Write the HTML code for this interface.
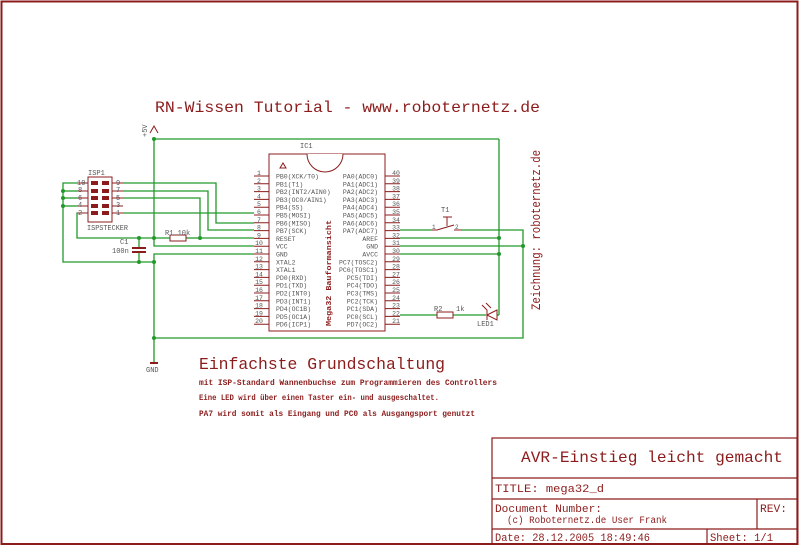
<!DOCTYPE html>
<html><head><meta charset="utf-8"><style>
body{margin:0;background:#fff}
svg{display:block}
text{font-family:"Liberation Mono","DejaVu Sans Mono",monospace}
</style></head><body>
<svg width="800" height="547" viewBox="0 0 800 547" xmlns="http://www.w3.org/2000/svg">
<rect x="1.5" y="1.5" width="796" height="542.5" fill="none" stroke="#8c1c1c" stroke-width="2"/>
<!-- title block -->
<g fill="none" stroke="#8c1c1c" stroke-width="1.2">
<rect x="492" y="438" width="305" height="106"/>
<line x1="492" y1="478" x2="797" y2="478"/>
<line x1="492" y1="499" x2="797" y2="499"/>
<line x1="492" y1="529" x2="797" y2="529"/>
<line x1="757" y1="499" x2="757" y2="529"/>
<line x1="707" y1="529" x2="707" y2="544"/>
</g>
<g fill="#8c1c1c">
<text x="521" y="462" font-size="16" textLength="262" lengthAdjust="spacingAndGlyphs">AVR-Einstieg leicht gemacht</text>
<text x="495" y="492" font-size="11" textLength="109" lengthAdjust="spacingAndGlyphs">TITLE:  mega32_d</text>
<text x="495" y="512" font-size="11" textLength="107" lengthAdjust="spacingAndGlyphs">Document Number:</text>
<text x="507" y="523" font-size="10" textLength="160" lengthAdjust="spacingAndGlyphs">(c) Roboternetz.de User Frank</text>
<text x="760" y="512" font-size="11" textLength="27" lengthAdjust="spacingAndGlyphs">REV:</text>
<text x="495" y="541" font-size="11" textLength="155" lengthAdjust="spacingAndGlyphs">Date: 28.12.2005 18:49:46</text>
<text x="710" y="541" font-size="11" textLength="63" lengthAdjust="spacingAndGlyphs">Sheet: 1/1</text>
<text x="155" y="112" font-size="16" textLength="385" lengthAdjust="spacingAndGlyphs">RN-Wissen Tutorial  - www.roboternetz.de</text>
<text x="199" y="369" font-size="17" textLength="246" lengthAdjust="spacingAndGlyphs">Einfachste Grundschaltung</text>
<text x="199" y="385" font-size="8" font-weight="bold" textLength="298" lengthAdjust="spacingAndGlyphs">mit ISP-Standard  Wannenbuchse zum Programmieren des Controllers</text>
<text x="199" y="400" font-size="8" font-weight="bold" textLength="240" lengthAdjust="spacingAndGlyphs">Eine LED wird über einen Taster ein- und ausgeschaltet.</text>
<text x="199" y="416" font-size="8" font-weight="bold" textLength="276" lengthAdjust="spacingAndGlyphs">PA7 wird somit als Eingang und PC0 als Ausgangsport genutzt</text>
<text transform="translate(540,310) rotate(-90)" font-size="13" textLength="160" lengthAdjust="spacingAndGlyphs">Zeichnung: roboternetz.de</text>
<text transform="translate(331,326) rotate(-90)" font-size="7" font-weight="bold" textLength="106" lengthAdjust="spacingAndGlyphs">Mega32 Bauformansicht</text>
</g>
<!-- green wires -->
<g fill="none" stroke="#22992a" stroke-width="1.3">
<polyline points="154,138 154,246 254,246"/>
<line x1="154" y1="139" x2="499" y2="139"/>
<line x1="499" y1="139" x2="499" y2="315"/>
<polyline points="154,363 154,254 254,254"/>
<polyline points="154,338 523,338 523,230 461,230"/>
<line x1="400" y1="230" x2="431" y2="230"/>
<line x1="400" y1="238" x2="499" y2="238"/>
<line x1="400" y1="246" x2="523" y2="246"/>
<line x1="400" y1="254" x2="499" y2="254"/>
<line x1="400" y1="315" x2="437" y2="315"/>
<line x1="453" y1="315" x2="486" y2="315"/>
<line x1="497" y1="315" x2="499" y2="315"/>
<polyline points="123,183 216,183 216,223 254,223"/>
<polyline points="123,191 208,191 208,230 254,230"/>
<polyline points="123,198 200,198 200,238 254,238"/>
<line x1="123" y1="213" x2="254" y2="213"/>
<polyline points="78,183 63,183 63,262 154,262"/>
<line x1="63" y1="191" x2="78" y2="191"/>
<line x1="63" y1="198" x2="78" y2="198"/>
<line x1="63" y1="206" x2="78" y2="206"/>
<polyline points="78,213 77,213 77,238 170,238"/>
<line x1="186" y1="238" x2="200" y2="238"/>
<line x1="139" y1="238" x2="139" y2="247"/>
<line x1="139" y1="252" x2="139" y2="262"/>
</g>
<g fill="#22992a">
<circle cx="154" cy="139" r="2"/><circle cx="154" cy="238" r="2"/><circle cx="154" cy="262" r="2"/><circle cx="154" cy="338" r="2"/>
<circle cx="139" cy="238" r="2"/><circle cx="139" cy="262" r="2"/><circle cx="200" cy="238" r="2"/>
<circle cx="63" cy="191" r="2"/><circle cx="63" cy="198" r="2"/><circle cx="63" cy="206" r="2"/>
<circle cx="499" cy="238" r="2"/><circle cx="499" cy="254" r="2"/><circle cx="523" cy="246" r="2"/>
</g>
<!-- components red -->
<g fill="none" stroke="#8c1c1c" stroke-width="1">
<rect x="269" y="154" width="116" height="177"/>
<path d="M307 154 A18 18 0 0 0 343 154" fill="#fff"/>
<rect x="88" y="177" width="24" height="45"/>
<rect x="170" y="235" width="16" height="6"/>
<line x1="132" y1="248" x2="146" y2="248" stroke-width="2"/>
<line x1="132" y1="252" x2="146" y2="252" stroke-width="2"/>
<rect x="437" y="312" width="16" height="6"/>
<path d="M487 310 L487 320 M497 310 L487 315 L497 320 Z"/>
<path d="M482 305 l5 5 M486 303 l5 5"/>
<line x1="431" y1="230" x2="437" y2="230"/><line x1="437" y1="230" x2="454" y2="225"/>
<line x1="454" y1="230" x2="461" y2="230"/>
<path d="M443 217 H452 M447 217 V226"/>
<path d="M150 133 L154 126 L158 133" stroke="#8c1c1c"/>
<line x1="150" y1="363" x2="158" y2="363" stroke-width="2"/>
<path d="M283 163 l-3 5 h6 z"/>
</g>
<g fill="#8c1c1c">
<!-- ISP pins -->
<rect x="91" y="181" width="7" height="4"/><rect x="102" y="181" width="7" height="4"/>
<rect x="91" y="189" width="7" height="4"/><rect x="102" y="189" width="7" height="4"/>
<rect x="91" y="196" width="7" height="4"/><rect x="102" y="196" width="7" height="4"/>
<rect x="91" y="204" width="7" height="4"/><rect x="102" y="204" width="7" height="4"/>
<rect x="91" y="211" width="7" height="4"/><rect x="102" y="211" width="7" height="4"/>
</g>
<g stroke="#8c1c1c" stroke-width="1">
<line x1="78" y1="183" x2="88" y2="183"/><line x1="78" y1="191" x2="88" y2="191"/><line x1="78" y1="198" x2="88" y2="198"/><line x1="78" y1="206" x2="88" y2="206"/><line x1="78" y1="213" x2="88" y2="213"/>
<line x1="112" y1="183" x2="123" y2="183"/><line x1="112" y1="191" x2="123" y2="191"/><line x1="112" y1="198" x2="123" y2="198"/><line x1="112" y1="206" x2="123" y2="206"/><line x1="112" y1="213" x2="123" y2="213"/>
</g>
<g fill="#555" font-size="7">
<text x="88" y="175">ISP1</text>
<text x="77" y="185">10</text><text x="78" y="192">8</text><text x="78" y="200">6</text><text x="78" y="207">4</text><text x="78" y="215">2</text>
<text x="116" y="185">9</text><text x="116" y="192">7</text><text x="116" y="200">5</text><text x="116" y="207">3</text><text x="116" y="215">1</text>
<text x="87" y="230" textLength="41" lengthAdjust="spacingAndGlyphs">ISPSTECKER</text>
<text x="165" y="235">R1  10k</text>
<text x="120" y="244">C1</text>
<text x="112" y="253">100n</text>
<text x="300" y="148">IC1</text>
<text x="146" y="372">GND</text>
<text transform="translate(147,137) rotate(-90)">+5V</text>
<text x="441" y="212">T1</text>
<text x="432" y="229" font-size="6">1</text><text x="455" y="229" font-size="6">2</text>
<text x="434" y="311">R2</text><text x="456" y="311">1k</text>
<text x="477" y="326">LED1</text>
</g>
<!-- IC pins -->
<g stroke="#8c1c1c" stroke-width="1" id="pins">
<path d="M254 176H269M254 183.8H269M254 191.6H269M254 199.4H269M254 207.2H269M254 215H269M254 222.8H269M254 230.6H269M254 238.4H269M254 246.2H269M254 254H269M254 261.8H269M254 269.6H269M254 277.4H269M254 285.2H269M254 293H269M254 300.8H269M254 308.6H269M254 316.4H269M254 324.2H269"/>
<path d="M385 176H400M385 183.8H400M385 191.6H400M385 199.4H400M385 207.2H400M385 215H400M385 222.8H400M385 230.6H400M385 238.4H400M385 246.2H400M385 254H400M385 261.8H400M385 269.6H400M385 277.4H400M385 285.2H400M385 293H400M385 300.8H400M385 308.6H400M385 316.4H400M385 324.2H400"/>
</g>
<g fill="#555" font-size="6.5">
<g text-anchor="middle">
<text x="259" y="175">1</text><text x="259" y="182.8">2</text><text x="259" y="190.6">3</text><text x="259" y="198.4">4</text><text x="259" y="206.2">5</text><text x="259" y="214">6</text><text x="259" y="221.8">7</text><text x="259" y="229.6">8</text><text x="259" y="237.4">9</text><text x="259" y="245.2">10</text><text x="259" y="253">11</text><text x="259" y="260.8">12</text><text x="259" y="268.6">13</text><text x="259" y="276.4">14</text><text x="259" y="284.2">15</text><text x="259" y="292">16</text><text x="259" y="299.8">17</text><text x="259" y="307.6">18</text><text x="259" y="315.4">19</text><text x="259" y="323.2">20</text>
<text x="396" y="175">40</text><text x="396" y="182.8">39</text><text x="396" y="190.6">38</text><text x="396" y="198.4">37</text><text x="396" y="206.2">36</text><text x="396" y="214">35</text><text x="396" y="221.8">34</text><text x="396" y="229.6">33</text><text x="396" y="237.4">32</text><text x="396" y="245.2">31</text><text x="396" y="253">30</text><text x="396" y="260.8">29</text><text x="396" y="268.6">28</text><text x="396" y="276.4">27</text><text x="396" y="284.2">26</text><text x="396" y="292">25</text><text x="396" y="299.8">24</text><text x="396" y="307.6">23</text><text x="396" y="315.4">22</text><text x="396" y="323.2">21</text>
</g>
<g>
<text x="276" y="178.5">PB0(XCK/T0)</text><text x="276" y="186.3">PB1(T1)</text><text x="276" y="194.1">PB2(INT2/AIN0)</text><text x="276" y="201.9">PB3(OC0/AIN1)</text><text x="276" y="209.7">PB4(SS)</text><text x="276" y="217.5">PB5(MOSI)</text><text x="276" y="225.3">PB6(MISO)</text><text x="276" y="233.1">PB7(SCK)</text><text x="276" y="240.9">RESET</text><text x="276" y="248.7">VCC</text><text x="276" y="256.5">GND</text><text x="276" y="264.3">XTAL2</text><text x="276" y="272.1">XTAL1</text><text x="276" y="279.9">PD0(RXD)</text><text x="276" y="287.7">PD1(TXD)</text><text x="276" y="295.5">PD2(INT0)</text><text x="276" y="303.3">PD3(INT1)</text><text x="276" y="311.1">PD4(OC1B)</text><text x="276" y="318.9">PD5(OC1A)</text><text x="276" y="326.7">PD6(ICP1)</text>
</g>
<g text-anchor="end">
<text x="378" y="178.5">PA0(ADC0)</text><text x="378" y="186.3">PA1(ADC1)</text><text x="378" y="194.1">PA2(ADC2)</text><text x="378" y="201.9">PA3(ADC3)</text><text x="378" y="209.7">PA4(ADC4)</text><text x="378" y="217.5">PA5(ADC5)</text><text x="378" y="225.3">PA6(ADC6)</text><text x="378" y="233.1">PA7(ADC7)</text><text x="378" y="240.9">AREF</text><text x="378" y="248.7">GND</text><text x="378" y="256.5">AVCC</text><text x="378" y="264.3">PC7(TOSC2)</text><text x="378" y="272.1">PC6(TOSC1)</text><text x="378" y="279.9">PC5(TDI)</text><text x="378" y="287.7">PC4(TDO)</text><text x="378" y="295.5">PC3(TMS)</text><text x="378" y="303.3">PC2(TCK)</text><text x="378" y="311.1">PC1(SDA)</text><text x="378" y="318.9">PC0(SCL)</text><text x="378" y="326.7">PD7(OC2)</text>
</g>
</g>
</svg>
</body></html>
